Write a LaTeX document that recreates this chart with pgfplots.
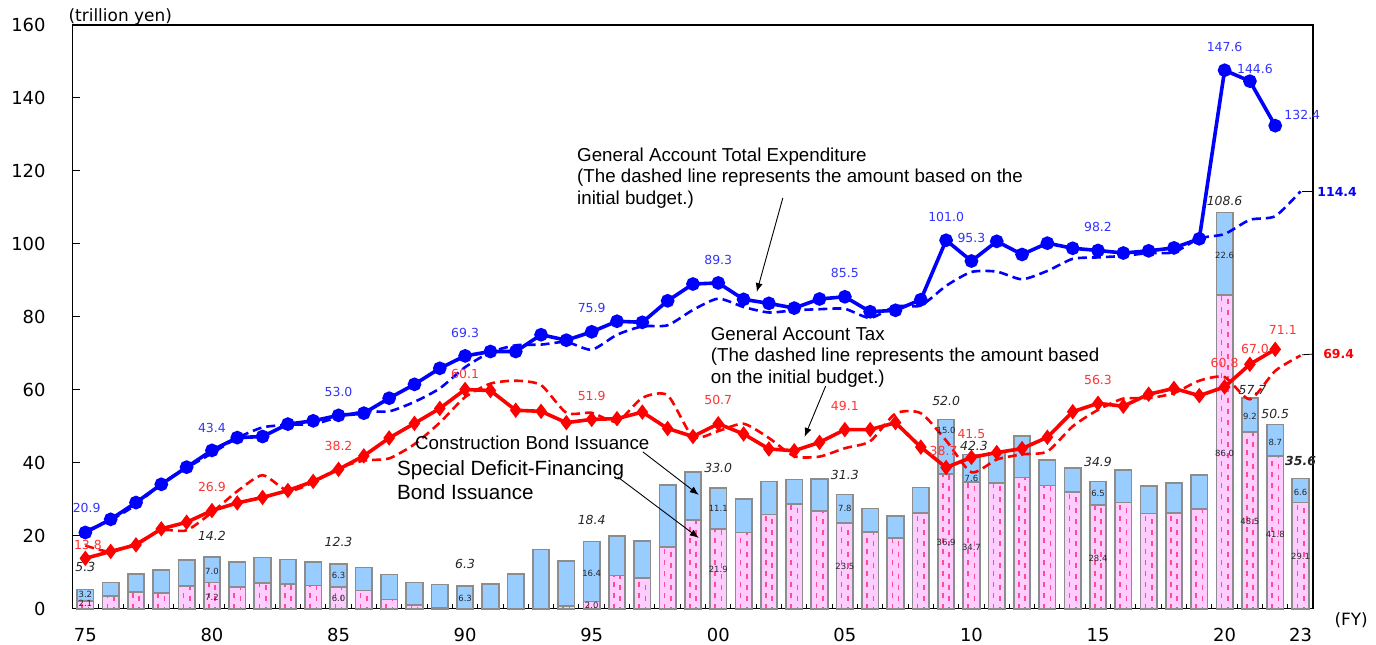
\documentclass[border=0pt]{standalone}
\usepackage{fontspec}
\setmainfont{DejaVu Sans}
\newfontfamily\arialfont{Liberation Sans}
\usepackage{pgfplots}
\usepackage{pgfplotstable}
\pgfplotsset{compat=1.18}
\usetikzlibrary{arrows.meta}

\definecolor{expblue}{HTML}{0000FF}
\definecolor{labblue}{HTML}{3333FF}
\definecolor{taxred}{HTML}{FF0000}
\definecolor{labred}{HTML}{FF3333}
\definecolor{conblue}{HTML}{99CCFF}
\definecolor{defpink}{HTML}{FFCCFF}
\definecolor{hatch}{HTML}{FF4D94}
\definecolor{bargray}{HTML}{8C8C8C}

% bond issuance: construction / special deficit-financing
\pgfplotstableread{
year con def
1975 3.2 2.1
1976 3.7 3.5
1977 5.0 4.5
1978 6.3 4.3
1979 7.1 6.3
1980 7.0 7.2
1981 7.0 5.9
1982 7.0 7.0
1983 6.8 6.7
1984 6.4 6.4
1985 6.3 6.0
1986 6.3 5.0
1987 6.9 2.5
1988 6.2 1.0
1989 6.4 0.2
1990 6.3 0.0
1991 6.7 0.0
1992 9.5 0.0
1993 16.2 0.0
1994 12.4 0.7
1995 16.4 2.0
1996 10.8 9.1
1997 10.1 8.4
1998 17.0 17.0
1999 13.2 24.3
2000 11.1 21.9
2001 9.1 20.9
2002 9.1 25.8
2003 6.7 28.7
2004 8.7 26.8
2005 7.8 23.5
2006 6.4 21.1
2007 6.0 19.4
2008 7.0 26.2
2009 15.0 36.9
2010 7.6 34.7
2011 8.4 34.4
2012 11.4 36.0
2013 7.0 33.8
2014 6.6 31.9
2015 6.5 28.4
2016 8.9 29.1
2017 7.5 26.1
2018 8.1 26.3
2019 9.2 27.4
2020 22.6 86.0
2021 9.2 48.5
2022 8.7 41.8
2023 6.6 29.1
}\bonds

% settled expenditure and tax
\pgfplotstableread{
year exp tax
1975 20.9 13.8
1976 24.5 15.7
1977 29.1 17.5
1978 34.1 21.9
1979 38.8 23.7
1980 43.4 26.9
1981 46.9 29.0
1982 47.2 30.5
1983 50.6 32.4
1984 51.5 34.9
1985 53.0 38.2
1986 53.6 41.9
1987 57.7 46.8
1988 61.5 50.8
1989 65.9 54.9
1990 69.3 60.1
1991 70.5 59.8
1992 70.5 54.4
1993 75.1 54.1
1994 73.6 51.0
1995 75.9 51.9
1996 78.8 52.1
1997 78.5 53.9
1998 84.4 49.4
1999 89.0 47.2
2000 89.3 50.7
2001 84.8 47.9
2002 83.7 43.8
2003 82.4 43.3
2004 84.9 45.6
2005 85.5 49.1
2006 81.4 49.1
2007 81.8 51.0
2008 84.7 44.3
2009 101.0 38.7
2010 95.3 41.5
2011 100.7 42.8
2012 97.1 43.9
2013 100.2 47.0
2014 98.8 54.0
2015 98.2 56.3
2016 97.5 55.5
2017 98.1 58.8
2018 98.9 60.4
2019 101.4 58.4
2020 147.6 60.8
2021 144.6 67.0
2022 132.4 71.1
}\settled

% initial budget
\pgfplotstableread{
year exp tax
1975 21.3 17.3
1976 24.3 15.6
1977 28.5 17.9
1978 34.3 21.5
1979 38.6 21.5
1980 42.6 26.4
1981 46.8 32.2
1982 49.7 36.6
1983 50.4 32.3
1984 50.6 34.6
1985 52.5 38.6
1986 54.1 40.6
1987 54.1 41.2
1988 56.7 45.1
1989 60.4 51.0
1990 66.2 58.0
1991 70.3 61.7
1992 72.2 62.5
1993 72.4 61.3
1994 73.1 53.7
1995 71.0 53.7
1996 75.1 51.3
1997 77.4 57.8
1998 77.7 58.5
1999 81.9 47.1
2000 85.0 48.7
2001 82.7 50.7
2002 81.2 46.8
2003 81.8 41.8
2004 82.1 41.7
2005 82.2 44.0
2006 79.7 45.9
2007 82.9 53.5
2008 83.1 53.6
2009 88.5 46.1
2010 92.3 37.4
2011 92.4 40.9
2012 90.3 42.3
2013 92.6 43.1
2014 95.9 50.0
2015 96.3 54.5
2016 96.7 57.6
2017 97.5 57.7
2018 97.7 59.1
2019 101.5 62.5
2020 102.7 63.5
2021 106.6 57.4
2022 107.6 65.2
2023 114.4 69.4
}\initial

\tikzset{
  bl/.style={text=labblue, font=\fontsize{12.5}{14}\selectfont, inner sep=0pt},
  rd/.style={text=labred, font=\fontsize{12.5}{14}\selectfont, inner sep=0pt},
  tot/.style={text=black!85, font=\fontsize{12.5}{14}\selectfont\itshape, inner sep=0pt},
  sm/.style={text=black!85, font=\fontsize{8.5}{10}\selectfont, inner sep=0pt},
  note/.style={font=\arialfont\fontsize{18.8}{21.5}\selectfont, align=left, inner sep=0pt, anchor=west},
  arr/.style={-{Latex[length=9bp,width=7bp]}, line width=0.9bp, black},
}

\begin{document}
\begin{tikzpicture}
\begin{axis}[
  scale only axis,
  width=1240.5bp, height=583.7bp,
  xmin=1974.5, xmax=2023.5,
  ymin=0, ymax=160,
  axis line style={line width=1.5bp, black},
  clip=false,
  xtick={1975,1980,1985,1990,1995,2000,2005,2010,2015,2020,2023},
  xticklabels={75,80,85,90,95,00,05,10,15,20,23},
  minor xtick={1975.5,1976.5,...,2022.5},
  major x tick style={draw=none},
  minor x tick style={line width=1bp, black},
  minor tick length=5bp,
  ytick={0,20,...,160},
  y tick style={line width=1bp, black},
  major tick length=7bp,
  tick align=inside,
  xtick pos=bottom, ytick pos=left,
  /pgf/number format/assume math mode=true,
  ticklabel style={font=\fontsize{18}{20}\selectfont, inner sep=0pt},
  yticklabel style={xshift=-27bp},
  xticklabel style={yshift=-19bp},
]
% bars: total (construction on top) then deficit part over it
\addplot[ybar, bar width=0.65, bar shift=0pt, fill=conblue, draw=bargray, line width=1.7bp]
  table[x=year, y expr=\thisrow{con}+\thisrow{def}] {\bonds};
\addplot[ybar, bar width=0.65, bar shift=0pt, fill=defpink, draw=none]
  table[x=year, y=def] {\bonds};
\addplot[ycomb, no marks, hatch, line width=1.6bp, dash pattern=on 5bp off 6bp]
  table[x expr=\thisrow{year}-0.125, y=def] {\bonds};
\addplot[ycomb, no marks, hatch, line width=1.6bp, dash pattern=on 5bp off 6bp, dash phase=3bp]
  table[x expr=\thisrow{year}+0.125, y=def] {\bonds};
\addplot[ybar, bar width=0.65, bar shift=0pt, fill=none, draw=bargray, line width=1.7bp]
  table[x=year, y=def] {\bonds};

% initial budget (dashed)
\addplot[expblue, smooth, tension=0.4, line width=2.6bp, dash pattern=on 9bp off 5bp, no marks]
  table[x=year, y=exp] {\initial};
\addplot[taxred, smooth, tension=0.4, line width=2.6bp, dash pattern=on 9bp off 5bp, no marks]
  table[x=year, y=tax] {\initial};
% settled
\addplot[expblue, line width=3.6bp, mark=*, mark size=5bp, mark options={solid}]
  table[x=year, y=exp] {\settled};
\addplot[taxred, line width=3.6bp, mark=diamond*, mark size=4.8bp, mark options={solid}]
  table[x=year, y=tax] {\settled};

% expenditure labels
\node[bl] at (axis cs:1975.05,27.5) {20.9};
\node[bl] at (axis cs:1980,49.5) {43.4};
\node[bl] at (axis cs:1985,59.3) {53.0};
\node[bl] at (axis cs:1990,75.6) {69.3};
\node[bl] at (axis cs:1995,82.4) {75.9};
\node[bl] at (axis cs:2000,95.6) {89.3};
\node[bl] at (axis cs:2005,92.0) {85.5};
\node[bl] at (axis cs:2009,107.4) {101.0};
\node[bl] at (axis cs:2010,101.6) {95.3};
\node[bl] at (axis cs:2015,104.6) {98.2};
\node[bl] at (axis cs:2020,154.0) {147.6};
\node[bl] at (axis cs:2021.2,148.0) {144.6};
\node[bl] at (axis cs:2023.07,135.3) {132.4};
\draw[black, line width=0.8bp] (axis cs:2023.05,114.4) -- (axis cs:2023.5,114.4);
\node[bl, text=expblue, anchor=west, font=\fontsize{12.5}{14}\selectfont\bfseries] at (axis cs:2023.66,114.3) {114.4};

% tax labels
\node[rd] at (axis cs:1975.1,17.5) {13.8};
\node[rd] at (axis cs:1980,33.4) {26.9};
\node[rd] at (axis cs:1985,44.6) {38.2};
\node[rd] at (axis cs:1990,64.3) {60.1};
\node[rd] at (axis cs:1995,58.2) {51.9};
\node[rd] at (axis cs:2000,57.2) {50.7};
\node[rd] at (axis cs:2005,55.5) {49.1};
\node[rd] at (axis cs:2008.9,43.2) {38.7};
\node[rd] at (axis cs:2010,47.9) {41.5};
\node[rd] at (axis cs:2015,62.6) {56.3};
\node[rd] at (axis cs:2020,67.4) {60.8};
\node[rd] at (axis cs:2021.2,71.2) {67.0};
\node[rd] at (axis cs:2022.3,76.3) {71.1};
\draw[black, line width=0.8bp] (axis cs:2023.05,69.6) -- (axis cs:2023.5,69.8);
\node[rd, text=taxred, anchor=west, font=\fontsize{12.5}{14}\selectfont\bfseries] at (axis cs:2023.89,69.8) {69.4};

% bond totals
\node[tot] at (axis cs:1975,11.4) {5.3};
\node[tot] at (axis cs:1980,19.9) {14.2};
\node[tot] at (axis cs:1985,18.3) {12.3};
\node[tot] at (axis cs:1990,12.3) {6.3};
\node[tot] at (axis cs:1995,24.3) {18.4};
\node[tot] at (axis cs:2000,38.5) {33.0};
\node[tot] at (axis cs:2005,36.7) {31.3};
\node[tot] at (axis cs:2009,56.9) {52.0};
\node[tot] at (axis cs:2010.1,44.6) {42.3};
\node[tot] at (axis cs:2015,40.2) {34.9};
\node[tot] at (axis cs:2020,111.7) {108.6};
\node[tot] at (axis cs:2021.1,59.9) {57.7};
\node[tot] at (axis cs:2022,53.4) {50.5};
\node[tot, font=\fontsize{12.5}{14}\selectfont\itshape\bfseries] at (axis cs:2023,40.5) {35.6};

% values inside bars
\node[sm] at (axis cs:1975,3.8) {3.2};
\node[sm] at (axis cs:1975,1.6) {2.1};
\node[sm] at (axis cs:1980,10.3) {7.0};
\node[sm] at (axis cs:1980,3.2) {7.2};
\node[sm] at (axis cs:1985,9.2) {6.3};
\node[sm] at (axis cs:1985,2.7) {6.0};
\node[sm] at (axis cs:1990,2.9) {6.3};
\node[sm] at (axis cs:1995,9.8) {16.4};
\node[sm] at (axis cs:1995,0.9) {2.0};
\node[sm] at (axis cs:2000,27.4) {11.1};
\node[sm] at (axis cs:2000,10.9) {21.9};
\node[sm] at (axis cs:2005,27.4) {7.8};
\node[sm] at (axis cs:2005,11.5) {23.5};
\node[sm] at (axis cs:2009,49.0) {15.0};
\node[sm] at (axis cs:2009,18.3) {36.9};
\node[sm] at (axis cs:2010,35.8) {7.6};
\node[sm] at (axis cs:2010,16.9) {34.7};
\node[sm] at (axis cs:2015,31.7) {6.5};
\node[sm] at (axis cs:2015,13.9) {28.4};
\node[sm] at (axis cs:2020,96.9) {22.6};
\node[sm] at (axis cs:2020,42.7) {86.0};
\node[sm] at (axis cs:2021,52.8) {9.2};
\node[sm] at (axis cs:2021,24.0) {48.5};
\node[sm] at (axis cs:2022,45.7) {8.7};
\node[sm] at (axis cs:2022,20.5) {41.8};
\node[sm] at (axis cs:2023,32.0) {6.6};
\node[sm] at (axis cs:2023,14.4) {29.1};

% annotations
\node[note] at (axis cs:1994.42,118.1) {General Account Total Expenditure\\(The dashed line represents the amount based on the\\initial budget.)};
\draw[arr] (axis cs:2002.55,112.6) -- (axis cs:2001.52,86.8);
\node[note] at (axis cs:1999.70,69.0) {General Account Tax\\(The dashed line represents the amount based\\on the initial budget.)};
\draw[arr] (axis cs:2004.24,61.0) -- (axis cs:2003.41,47.1);
\node[note] at (axis cs:1988.02,45.4) {Construction Bond Issuance};
\node[note, font=\arialfont\fontsize{20.7}{24}\selectfont] at (axis cs:1987.31,35.3) {Special Deficit-Financing\\Bond Issuance};
\draw[arr] (axis cs:1997.02,43.0) -- (axis cs:1999.23,31.2);
\draw[arr] (axis cs:1996.03,36.1) -- (axis cs:1999.23,19.4);

% unit labels
\node[anchor=west, inner sep=0pt, font=\fontsize{17}{18}\selectfont] at (axis cs:1974.33,162.2) {(trillion yen)};
\node[inner sep=0pt, font=\fontsize{17}{18}\selectfont] at (axis cs:2025.0,-3.1) {(FY)};
\end{axis}
\pgfresetboundingbox
\path[use as bounding box] ([shift={(-72.7bp,-35.3bp)}]current axis.south west) rectangle ([shift={(62.8bp,25bp)}]current axis.north east);
\end{tikzpicture}
\end{document}
